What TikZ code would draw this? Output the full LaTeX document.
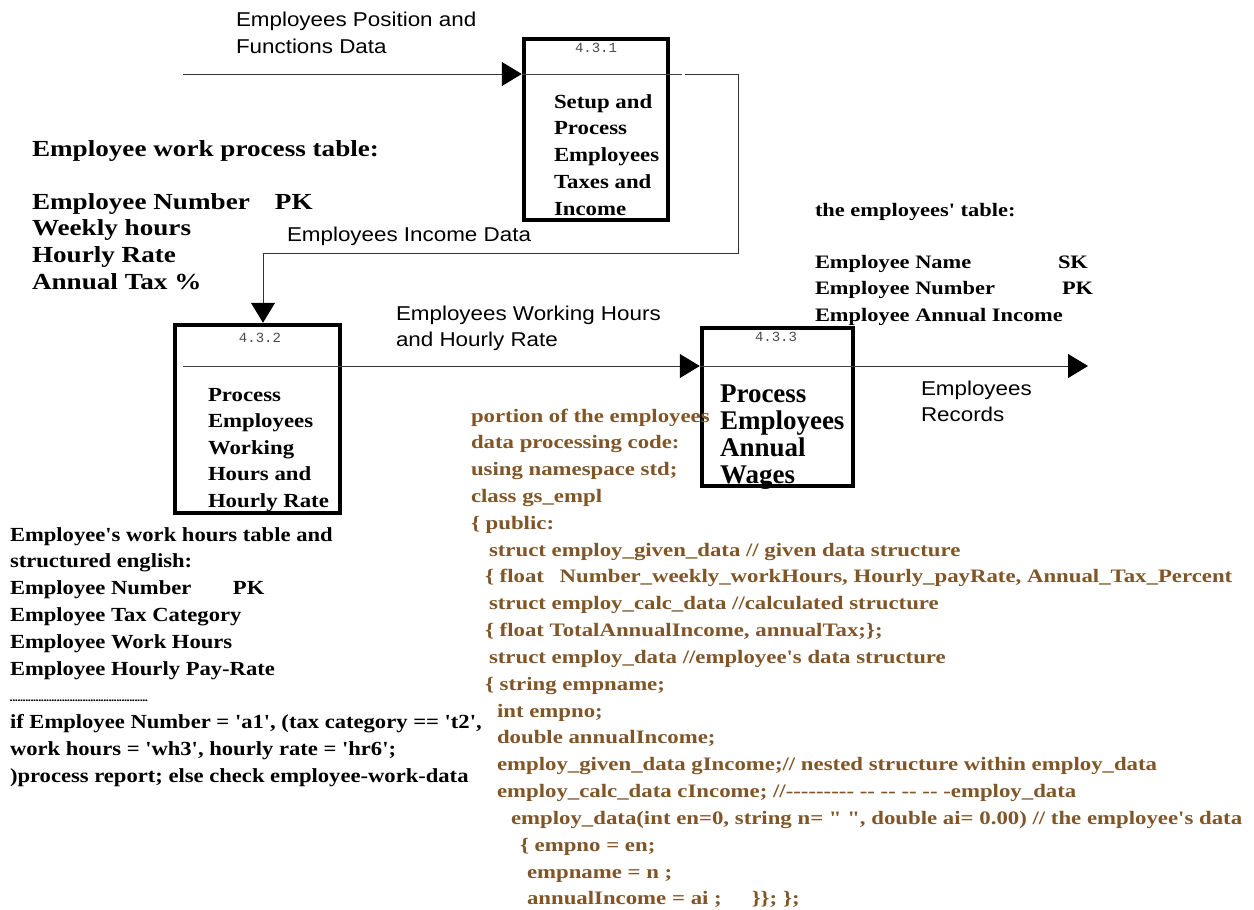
\documentclass[tikz,border=0pt]{standalone}
\usepackage{fontspec}
\usetikzlibrary{arrows.meta}
\setmainfont{Liberation Serif}
\newfontfamily\lblfont[FakeStretch=1.12]{Liberation Sans}
\newfontfamily\numfont{Liberation Mono}
\newfontfamily\tblfont[Ligatures=TeXOff,FakeStretch=1.18]{Liberation Serif}
\newfontfamily\boxfont[Ligatures=TeXOff,FakeStretch=1.14]{Liberation Serif}
\newfontfamily\bigboxfont[Ligatures=TeXOff]{Liberation Serif}
\newfontfamily\rtfont[Ligatures=TeXOff,FakeStretch=1.18]{Liberation Serif}
\newfontfamily\blfont[Ligatures=TeXOff,FakeStretch=1.13]{Liberation Serif}
\newfontfamily\codefont[Ligatures=TeXOff,FakeStretch=1.2]{Liberation Serif}
\definecolor{codebrown}{RGB}{128,86,40}
\newcommand\rows[1]{\begin{tabular}[t]{@{}l@{}}#1\end{tabular}}
\tikzset{
  txt/.style={anchor=base west, inner sep=0pt, outer sep=0pt, align=left},
  pbox/.style={draw=black, line width=4.5pt, inner sep=0pt, fill=none},
  flow/.style={line width=0.9pt, draw=black!80},
  divider/.style={line width=0.9pt, draw=black!75},
  tip/.style={-{Triangle[length=20pt,width=24pt,color=black]}},
  lbl/.style={txt, font=\lblfont\fontsize{20}{26.5}\selectfont},
  pid/.style={anchor=base, inner sep=0pt, text=black!70, font=\numfont\fontsize{14}{14}\selectfont},
}
\begin{document}
\begin{tikzpicture}[x=1pt,y=-1pt]
\useasboundingbox (0,0) rectangle (1254,910);
\fill[white] (0,0) rectangle (1254,910);

% process boxes
\node[pbox, minimum width=144pt, minimum height=181pt] (box1) at (596,129.5) {};
\node[pbox, minimum width=165pt, minimum height=188pt] (box2) at (257.5,419) {};
\node[pbox, minimum width=151pt, minimum height=158pt] (box3) at (777.5,407) {};

\node[pid] (id1) at (596,52) {4.3.1};
\node[pid] (id2) at (260,342) {4.3.2};
\node[pid] (id3) at (776,341) {4.3.3};

\node[txt, font=\boxfont\bfseries\fontsize{20}{26.75}\selectfont] (t1) at (554,108)
  {\rows{Setup and\\Process\\Employees\\Taxes and\\Income}};
\node[txt, font=\boxfont\bfseries\fontsize{20}{26.6}\selectfont] (t2) at (208,401)
  {\rows{Process\\Employees\\Working\\Hours and\\Hourly Rate}};
\node[txt, font=\bigboxfont\bfseries\fontsize{27}{27}\selectfont] (t3) at (720,402)
  {\rows{Process\\Employees\\Annual\\Wages}};

% coordinates
\coordinate (in1) at (183,74);
\coordinate (c1) at (685,74);
\coordinate (c2) at (738,253);
\coordinate (c3) at (263,253);
\coordinate (d2) at (183,366);
\coordinate (out3) at (1088,366);

% dividers and flows
\draw[flow, tip] (in1) -- (in1 -| box1.west);
\draw[divider] (in1 -| box1.west) -- (682,74);
\draw[flow, tip] (c1) -- (c1 -| c2) -- (c2) -- (c3) -- (c3 |- box2.north);
\draw[divider] (d2) -- (d2 -| box2.east);
\draw[flow, tip] (d2 -| box2.east) -- (d2 -| box3.west);
\draw[divider] (d2 -| box3.west) -- (d2 -| box3.east);
\draw[flow, tip] (d2 -| box3.east) -- (out3);

% flow labels
\node[lbl] (l1) at (236,27) {\rows{Employees Position and\\Functions Data}};
\node[lbl] (l2) at (287,241) {Employees Income Data};
\node[lbl] (l3) at (396,320) {\rows{Employees Working Hours\\and Hourly Rate}};
\node[lbl] (l4) at (921,395) {\rows{Employees\\Records}};

% tables
\node[txt, font=\tblfont\bfseries\fontsize{23}{26.6}\selectfont] (tabA) at (32,156)
  {\rows{Employee work process table:\\ \\ \makebox[243pt][l]{Employee Number}PK\\Weekly hours\\Hourly Rate\\Annual Tax \%}};
\node[txt, font=\rtfont\bfseries\fontsize{19}{26.3}\selectfont] (tabB) at (815,216)
  {\rows{the employees' table:\\ \\ \makebox[243pt][l]{Employee Name}SK\\ \makebox[247pt][l]{Employee Number}PK\\Employee Annual Income}};
\node[txt, font=\blfont\bfseries\fontsize{20}{26.8}\selectfont] (tabC) at (10,541)
  {\rows{Employee's work hours table and\\structured english:\\ \makebox[223pt][l]{Employee Number}PK\\Employee Tax Category\\Employee Work Hours\\Employee Hourly Pay-Rate\\
  \makebox[140pt][l]{\fontsize{11}{11}\selectfont\leaders\hbox to 2.6pt{\hss.\hss}\hfill}\\
  if Employee Number = 'a1', (tax category == 't2',\\work hours = 'wh3', hourly rate = 'hr6';\\)process report; else check employee-work-data}};

% code
\node[txt, text=codebrown, font=\codefont\bfseries\fontsize{19}{26.83}\selectfont] (code) at (471,422)
  {\rows{portion of the employees\\
  data processing code:\\
  using namespace std;\\
  class gs\_empl\\
  \{ public:\\
  \hspace*{18pt}struct employ\_given\_data // given data structure\\
  \hspace*{14pt}\{ float\hspace{10pt} Number\_weekly\_workHours, Hourly\_payRate, Annual\_Tax\_Percent\\
  \hspace*{18pt}struct employ\_calc\_data //calculated structure\\
  \hspace*{14pt}\{ float TotalAnnualIncome, annualTax;\};\\
  \hspace*{18pt}struct employ\_data //employee's data structure\\
  \hspace*{14pt}\{ string empname;\\
  \hspace*{26pt}int empno;\\
  \hspace*{26pt}double annualIncome;\\
  \hspace*{26pt}employ\_given\_data gIncome;// nested structure within employ\_data\\
  \hspace*{26pt}employ\_calc\_data cIncome; //--------- -- -- -- -- -employ\_data\\
  \hspace*{40pt}employ\_data(int en=0, string n= " ", double ai= 0.00) // the employee's data\\
  \hspace*{49pt}\{ empno = en;\\
  \hspace*{56pt}empname = n ;\\
  \hspace*{56pt}annualIncome = ai ;\hspace{30pt}\}\}; \};}};
\end{tikzpicture}
\end{document}
